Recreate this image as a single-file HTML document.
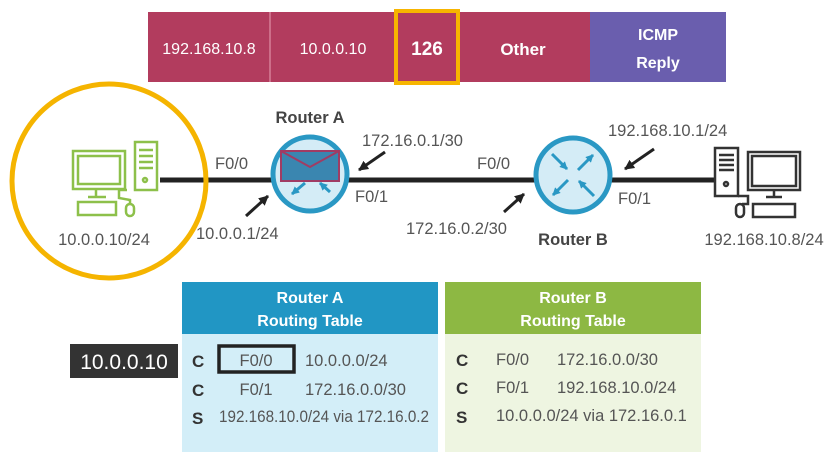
<!DOCTYPE html>
<html><head><meta charset="utf-8"><style>
html,body{margin:0;padding:0;background:#fff;width:834px;height:463px;overflow:hidden}
svg{display:block;font-family:"Liberation Sans",sans-serif}
.t{fill:#555;font-size:16.5px}
.w{fill:#fff}
.b{font-weight:bold}
</style></head><body>
<svg width="834" height="463" viewBox="0 0 834 463" xmlns="http://www.w3.org/2000/svg">
<defs>
<marker id="ar" markerUnits="userSpaceOnUse" markerWidth="10" markerHeight="10" refX="9" refY="5" orient="auto"><path d="M0,0 L10,5 L0,10 z" fill="#222"/></marker>
<marker id="arB" markerUnits="userSpaceOnUse" markerWidth="8" markerHeight="8" refX="7" refY="4" orient="auto"><path d="M0,0 L8,4 L0,8 z" fill="#2a98c4"/></marker>
</defs>
<!-- top bar -->
<rect x="148" y="12" width="442" height="70" fill="#b23c5e"/>
<line x1="270" y1="12" x2="270" y2="82" stroke="#e8a0b4" stroke-width="1"/>
<rect x="590" y="12" width="136" height="70" fill="#6a5eae"/>
<rect x="396" y="11" width="62" height="72" fill="none" stroke="#f7b500" stroke-width="4"/>
<text x="209" y="54" class="w" font-size="16" text-anchor="middle">192.168.10.8</text>
<text x="333" y="54" class="w" font-size="16" text-anchor="middle">10.0.0.10</text>
<text x="427" y="55" class="w b" font-size="19" text-anchor="middle">126</text>
<text x="523" y="55" class="w b" font-size="17" text-anchor="middle">Other</text>
<text x="658" y="40" class="w b" font-size="16" text-anchor="middle">ICMP</text>
<text x="658" y="68" class="w b" font-size="16" text-anchor="middle">Reply</text>
<!-- link -->
<line x1="160" y1="180" x2="715" y2="180" stroke="#222" stroke-width="5"/>
<!-- highlight circle -->
<circle cx="109" cy="181" r="97" fill="none" stroke="#f5b400" stroke-width="5"/>
<!-- left PC -->
<g stroke="#8dc04a" stroke-width="2.5" fill="none">
<rect x="73" y="151" width="52" height="38"/><rect x="78" y="156" width="42" height="28"/>
<line x1="96" y1="189" x2="96" y2="196"/><line x1="88" y1="197" x2="106" y2="197"/>
<rect x="135" y="142" width="22" height="48"/>
<line x1="139" y1="150" x2="153" y2="150"/><line x1="139" y1="156" x2="153" y2="156"/><line x1="139" y1="162" x2="153" y2="162"/><line x1="139" y1="168" x2="153" y2="168"/>
<circle cx="145" cy="180" r="2"/>
<rect x="78" y="202" width="38" height="13"/>
<path d="M127 190 L119 190 L119 198 L130 200 L130 204"/>
<rect x="126" y="204" width="8" height="12" rx="4"/>
</g>
<text x="104" y="245" class="t" text-anchor="middle">10.0.0.10/24</text>
<!-- Router A -->
<circle cx="310" cy="174" r="37" fill="#d4ecf6" stroke="#2a98c4" stroke-width="5"/>
<rect x="281" y="151" width="58" height="30" fill="#3a86b0" stroke="#a03c64" stroke-width="2"/>
<path d="M281 151 L310 167 L339 151" fill="none" stroke="#a03c64" stroke-width="2"/>
<line x1="305" y1="183" x2="292" y2="194" stroke="#2a98c4" stroke-width="3" marker-end="url(#arB)"/>
<line x1="330" y1="192" x2="320" y2="183" stroke="#2a98c4" stroke-width="3" marker-end="url(#arB)"/>
<text x="310" y="123" class="b" fill="#444" font-size="16.5" text-anchor="middle">Router A</text>
<text x="215" y="169" class="t">F0/0</text>
<text x="355" y="202" class="t">F0/1</text>
<text x="362" y="146" class="t">172.16.0.1/30</text>
<text x="196" y="239" class="t">10.0.0.1/24</text>
<line x1="385" y1="152" x2="359" y2="170" stroke="#222" stroke-width="3" marker-end="url(#ar)"/>
<line x1="246" y1="216" x2="268" y2="196" stroke="#222" stroke-width="3" marker-end="url(#ar)"/>
<!-- Router B -->
<circle cx="573" cy="175" r="37" fill="#d4ecf6" stroke="#2a98c4" stroke-width="5"/>
<g stroke="#2a98c4" stroke-width="3" marker-end="url(#arB)">
<line x1="552" y1="154" x2="567" y2="169"/><line x1="578" y1="170" x2="593" y2="155"/>
<line x1="568" y1="180" x2="553" y2="195"/><line x1="594" y1="196" x2="579" y2="181"/>
</g>
<text x="573" y="245" class="b" fill="#444" font-size="16.5" text-anchor="middle">Router B</text>
<text x="477" y="169" class="t">F0/0</text>
<text x="618" y="204" class="t">F0/1</text>
<text x="608" y="136" class="t">192.168.10.1/24</text>
<text x="406" y="234" class="t">172.16.0.2/30</text>
<line x1="654" y1="149" x2="625" y2="169" stroke="#222" stroke-width="3" marker-end="url(#ar)"/>
<line x1="504" y1="212" x2="524" y2="194" stroke="#222" stroke-width="3" marker-end="url(#ar)"/>
<!-- right PC -->
<g stroke="#333" stroke-width="2.5" fill="none">
<rect x="715" y="148" width="23" height="48"/>
<line x1="719" y1="155" x2="734" y2="155"/><line x1="719" y1="160" x2="734" y2="160"/><line x1="719" y1="165" x2="734" y2="165"/><line x1="719" y1="170" x2="734" y2="170"/>
<circle cx="726" cy="184" r="2"/>
<rect x="748" y="152" width="52" height="38"/><rect x="752" y="156" width="44" height="30"/>
<line x1="774" y1="190" x2="774" y2="196"/><line x1="766" y1="197" x2="782" y2="197"/>
<rect x="753" y="204" width="42" height="13"/>
<path d="M738 196 L748 196 L748 204 L742 204"/>
<rect x="736" y="204" width="8" height="13" rx="4"/>
</g>
<text x="764" y="245" class="t" text-anchor="middle">192.168.10.8/24</text>
<!-- Router A table -->
<rect x="182" y="282" width="256" height="52" fill="#2196c4"/>
<rect x="182" y="334" width="256" height="118" fill="#d3eef8"/>
<text x="310" y="303" class="w b" font-size="16" text-anchor="middle">Router A</text>
<text x="310" y="326" class="w b" font-size="16" text-anchor="middle">Routing Table</text>
<rect x="219" y="346" width="75" height="26" fill="none" stroke="#222" stroke-width="3.5"/>
<text x="192" y="367" class="b" fill="#333" font-size="17">C</text>
<text x="256" y="366" class="t" text-anchor="middle">F0/0</text>
<text x="305" y="366" class="t">10.0.0.0/24</text>
<text x="192" y="396" class="b" fill="#333" font-size="17">C</text>
<text x="256" y="395" class="t" text-anchor="middle">F0/1</text>
<text x="305" y="395" class="t">172.16.0.0/30</text>
<text x="192" y="424" class="b" fill="#333" font-size="17">S</text>
<text x="219" y="422" class="t" font-size="13.5" textLength="210" lengthAdjust="spacingAndGlyphs">192.168.10.0/24 via 172.16.0.2</text>
<!-- label -->
<rect x="70" y="344" width="108" height="34" fill="#333"/>
<text x="124" y="369" class="w" font-size="21" text-anchor="middle">10.0.0.10</text>
<!-- Router B table -->
<rect x="445" y="282" width="256" height="52" fill="#8db843"/>
<rect x="445" y="334" width="256" height="118" fill="#eef5e1"/>
<text x="573" y="303" class="w b" font-size="16" text-anchor="middle">Router B</text>
<text x="573" y="326" class="w b" font-size="16" text-anchor="middle">Routing Table</text>
<text x="456" y="366" class="b" fill="#333" font-size="17">C</text>
<text x="496" y="365" class="t">F0/0</text>
<text x="557" y="365" class="t">172.16.0.0/30</text>
<text x="456" y="394" class="b" fill="#333" font-size="17">C</text>
<text x="496" y="393" class="t">F0/1</text>
<text x="557" y="393" class="t">192.168.10.0/24</text>
<text x="456" y="423" class="b" fill="#333" font-size="17">S</text>
<text x="496" y="421" class="t" font-size="13.5">10.0.0.0/24 via 172.16.0.1</text>
</svg>
</body></html>
